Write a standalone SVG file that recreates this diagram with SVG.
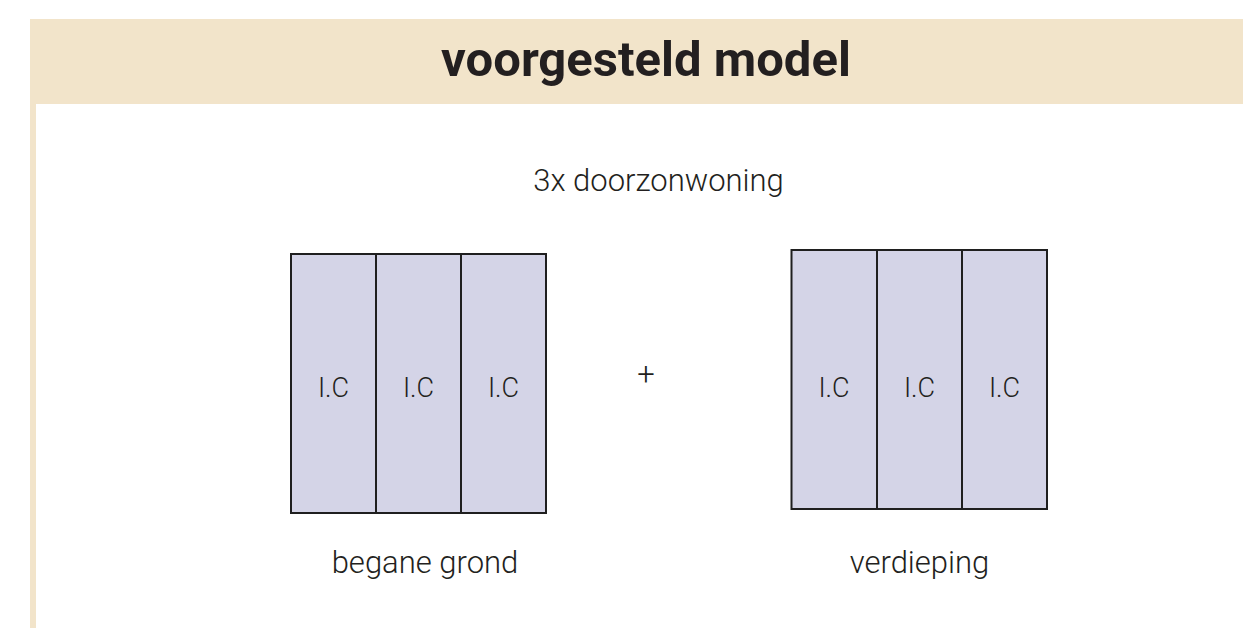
<svg xmlns="http://www.w3.org/2000/svg" width="1243" height="628" viewBox="0 0 1243 628">
<style>
.t{font-family:Roboto,"Liberation Sans",sans-serif;fill:#231f20;text-anchor:middle}
.b{font-weight:300;font-size:31px}
.cell{fill:#d4d4e7;stroke:#1f1f1f;stroke-width:2}
.lbl{font-size:27px;font-weight:300}
</style>
<rect x="0" y="0" width="1243" height="628" fill="#ffffff"/>
<g id="header">
<rect x="30" y="19" width="1213" height="85" fill="#f2e4ca"/>
<rect x="30" y="99" width="6" height="529" fill="#f2e4ca"/>
<text class="t" x="646" y="76" font-size="49" font-weight="bold">voorgesteld model</text>
</g>
<text class="t b" x="658.5" y="191">3x doorzonwoning</text>
<g id="begane-grond">
<rect class="cell" x="291" y="254" width="85" height="259"/>
<rect class="cell" x="376" y="254" width="85" height="259"/>
<rect class="cell" x="461" y="254" width="85" height="259"/>
<text class="t lbl" x="333.5" y="397">I.C</text>
<text class="t lbl" x="418.5" y="397">I.C</text>
<text class="t lbl" x="503.5" y="397">I.C</text>
<text class="t b" x="425" y="573">begane grond</text>
</g>
<text class="t b" x="646" y="385">+</text>
<g id="verdieping">
<rect class="cell" x="791.5" y="250" width="85.5" height="259"/>
<rect class="cell" x="877" y="250" width="85" height="259"/>
<rect class="cell" x="962" y="250" width="85" height="259"/>
<text class="t lbl" x="834" y="397">I.C</text>
<text class="t lbl" x="919.5" y="397">I.C</text>
<text class="t lbl" x="1004.5" y="397">I.C</text>
<text class="t b" x="919.5" y="573">verdieping</text>
</g>
<g id="connectors"></g>
</svg>
